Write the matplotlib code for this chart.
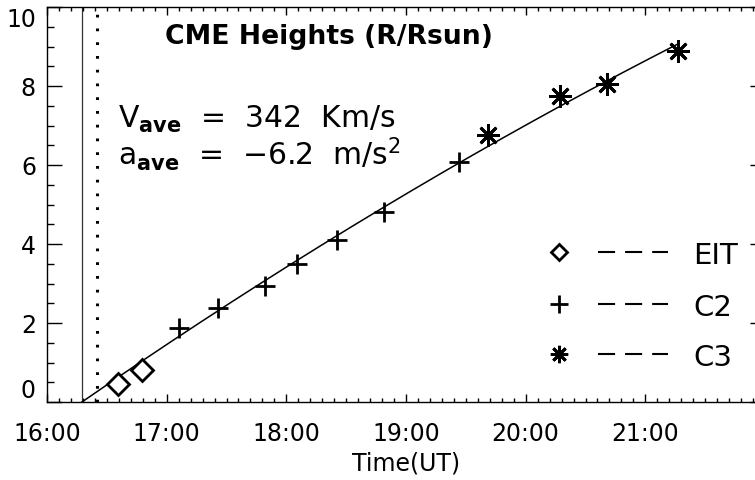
import numpy as np
import matplotlib
matplotlib.use("Agg")
import matplotlib.pyplot as plt
from matplotlib.ticker import MultipleLocator, FixedLocator, FixedFormatter

# ---- data (time in decimal hours UT, height in R/Rsun) ----
eit_time = [16.596, 16.791]
eit_height = [0.45, 0.81]
c2_time = [17.103, 17.431, 17.821, 18.086, 18.425, 18.818, 19.442]
c2_height = [1.87, 2.38, 2.93, 3.50, 4.10, 4.81, 6.07]
c3_time = [19.687, 20.286, 20.676, 21.274]
c3_height = [6.75, 7.75, 8.05, 8.89]
onset_time = 16.292      # solid vertical line
flare_time = 16.418      # dotted vertical line
x_ticks = [16, 17, 18, 19, 20, 21]
x_ticklabels = ["16:00", "17:00", "18:00", "19:00", "20:00", "21:00"]
y_ticks = [0, 2, 4, 6, 8, 10]
y_ticklabels = ["0", "2", "4", "6", "8", "10"]
legend_labels = ["EIT", "C2", "C3"]

plt.rcParams['font.family'] = ['DejaVu Sans']
plt.rcParams['mathtext.fontset'] = 'dejavusans'

fig = plt.figure(figsize=(7.55, 4.81), dpi=100)
ax = fig.add_axes([47/755, 1-403/481, 718/755, 395/481])
ax.set_xlim(16, 22)
ax.set_ylim(0, 10)

# quadratic fit through the onset point (height 0 at onset_time)
all_t = np.array(eit_time + c2_time + c3_time)
all_h = np.array(eit_height + c2_height + c3_height)
dt = all_t - onset_time
A = np.vstack([dt, dt**2]).T
b1, b2 = np.linalg.lstsq(A, all_h, rcond=None)[0]
tt = np.linspace(onset_time, max(all_t), 200)
ax.plot(tt, b1*(tt-onset_time) + b2*(tt-onset_time)**2, color='black', lw=1.1, zorder=2)

ax.axvline(onset_time, color='#333333', lw=0.9, zorder=1)
ax.axvline(flare_time, color='black', lw=2.2, linestyle=(0, (0.9, 3.6)), zorder=1)

mk_d = dict(marker='D', markersize=11, mew=2.0, mfc='white', mec='black', ls='none')
mk_p = dict(marker='+', markersize=14, mew=2.0, color='black', ls='none')
mk_s = dict(marker=(8, 2, 0), markersize=16, mew=2.0, color='black', ls='none')
ax.plot(eit_time, eit_height, zorder=3, **mk_d)
ax.plot(c2_time, c2_height, zorder=3, **mk_p)
ax.plot(c3_time, c3_height, zorder=3, **mk_s)

# legend drawn manually
leg_y = [0.380, 0.248, 0.1215]
for ly, lab, mk in zip(leg_y, legend_labels, [mk_d, mk_p, mk_s]):
    m = dict(mk)
    if m['marker'] == 'D':
        m['markersize'] = 8.5
    else:
        m['markersize'] = 12.5
    ax.plot([0.713], [ly], transform=ax.transAxes, clip_on=False, **m)
    ax.plot([0.767, 0.865], [ly, ly], transform=ax.transAxes, color='black',
            lw=1.5, dashes=(8.2, 4.8))
    ax.text(0.900, ly, lab, transform=ax.transAxes, fontsize=21,
            ha='left', va='center_baseline')

ax.text((165-47)/718, 0.9096, "CME Heights (R/Rsun)", transform=ax.transAxes,
        fontsize=19.2, fontweight='bold', ha='left', va='baseline')
ax.text(0.099, 0.696, r"V$_{\mathbf{ave}}$  =  342  Km/s", transform=ax.transAxes,
        fontsize=21.5, ha='left', va='baseline')
ax.text(0.099, 0.603, r"a$_{\mathbf{ave}}$  =  $-$6.2  m/s$^{2}$", transform=ax.transAxes,
        fontsize=21.5, ha='left', va='baseline')

# axes styling
ax.xaxis.set_major_locator(FixedLocator(x_ticks))
ax.xaxis.set_major_formatter(FixedFormatter(x_ticklabels))
ax.xaxis.set_minor_locator(MultipleLocator(0.1))
ax.yaxis.set_major_locator(FixedLocator(y_ticks))
ax.yaxis.set_major_formatter(FixedFormatter(y_ticklabels))
ax.yaxis.set_minor_locator(MultipleLocator(0.5))
ax.tick_params(axis='both', which='both', direction='in', top=True, right=True,
               width=1.0, labelsize=17)
ax.tick_params(axis='x', which='major', length=5.8, pad=14)
ax.tick_params(axis='x', which='minor', length=2.9)
ax.tick_params(axis='y', which='major', length=10.8, pad=8)
ax.tick_params(axis='y', which='minor', length=5.0)
for s in ax.spines.values():
    s.set_linewidth(1.0)
ax.set_xlabel("Time(UT)", fontsize=17, labelpad=4)

fig.canvas.draw()
yt = ax.yaxis.get_major_ticks()
yt[0].label1.set_verticalalignment('bottom')
yt[-1].label1.set_verticalalignment('top')

fig.savefig("out.png", dpi=100)
